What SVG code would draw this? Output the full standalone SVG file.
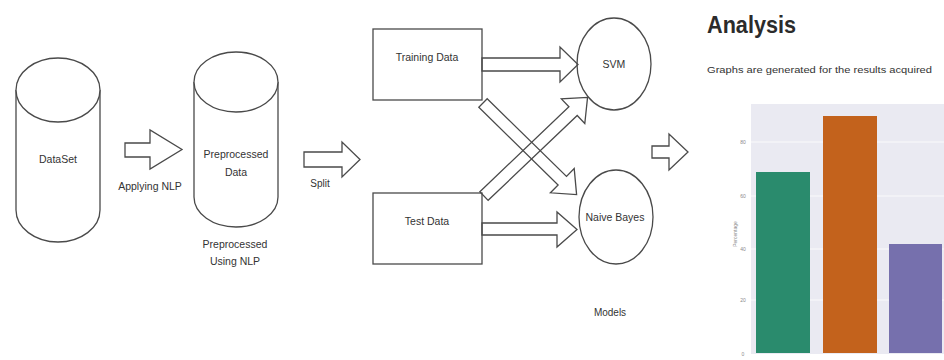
<svg xmlns="http://www.w3.org/2000/svg" width="944" height="360" viewBox="0 0 944 360">
  <style>
    .ln { fill: none; stroke: #4a4a4a; stroke-width: 1.3; }
    .shape { fill: #ffffff; stroke: #4a4a4a; stroke-width: 1.3; }
    .lbl { font-family: "Liberation Sans", Arial, sans-serif; font-size: 10.5px; fill: #333333; text-anchor: middle; }
    .tick { font-family: "Liberation Sans", Arial, sans-serif; font-size: 5px; fill: #8a8a8a; text-anchor: middle; }
    .grid { stroke: #ffffff; stroke-width: 1; opacity: 0.8; }
  </style>
  <rect width="944" height="360" fill="#ffffff"/>

  <!-- Data stores -->
  <g id="dataset">
    <path class="shape" d="M16,90 L16,210 A42,32 0 0 0 100,210 L100,90"/>
    <ellipse class="shape" cx="58" cy="90" rx="42" ry="32"/>
    <text class="lbl" x="58" y="163">DataSet</text>
  </g>
  <g id="preprocessed">
    <path class="shape" d="M194,82 L194,197 A42,30 0 0 0 278,197 L278,82"/>
    <ellipse class="shape" cx="236" cy="82" rx="42" ry="30"/>
    <text class="lbl" x="236" y="158">Preprocessed</text>
    <text class="lbl" x="236" y="176">Data</text>
  </g>

  <!-- Split data -->
  <g id="training">
    <rect class="shape" x="373" y="29" width="109" height="71"/>
    <text class="lbl" x="427" y="61">Training Data</text>
  </g>
  <g id="test">
    <rect class="shape" x="373" y="193" width="109" height="71"/>
    <text class="lbl" x="427" y="225">Test Data</text>
  </g>

  <!-- Models -->
  <g id="svm">
    <ellipse class="shape" cx="614" cy="64" rx="37" ry="46"/>
    <text class="lbl" x="614" y="68">SVM</text>
  </g>
  <g id="naive-bayes">
    <ellipse class="shape" cx="616" cy="217" rx="37" ry="47"/>
    <text class="lbl" x="615" y="221">Naive Bayes</text>
  </g>

  <!-- Block-arrow connectors -->
  <g id="connectors">
    <polygon class="ln" points="125,143 150,143 150,130 182,149.5 150,169 150,157 125,157"/>
    <polygon class="ln" points="304,152 342,152 342,142 360,159.5 342,177 342,167 304,167"/>
    <polygon class="ln" points="482,58 560,58 560,47 578,64.5 560,82 560,71 482,71"/>
    <polygon class="ln" points="482,223 557,223 557,212 577,229.5 557,247 557,235 482,235"/>
    <path class="ln" transform="translate(483,103) rotate(44.4)" d="M0,-6 L111,-6 L111,-17 L131,0 L111,17 L111,6 L0,6 Z"/>
    <path class="ln" transform="translate(484,196) rotate(-43.6)" d="M0,-6 L123,-6 L123,-17 L143,0 L123,17 L123,6 L0,6 Z"/>
    <polygon class="ln" points="652,146 669,146 669,134 688,152 669,170 669,158 652,158"/>
  </g>

  <!-- Free labels -->
  <g id="labels">
    <text class="lbl" x="150" y="190">Applying NLP</text>
    <text class="lbl" x="235" y="248">Preprocessed</text>
    <text class="lbl" x="235" y="265">Using NLP</text>
    <text class="lbl" x="320" y="187" style="font-size:10px">Split</text>
    <text class="lbl" x="610" y="316" style="font-size:10px">Models</text>
  </g>

  <!-- Analysis panel -->
  <g id="analysis">
    <text x="707" y="33" font-family="Liberation Sans, Arial, sans-serif" font-size="24" font-weight="bold" fill="#2b2b2b" textLength="89" lengthAdjust="spacingAndGlyphs">Analysis</text>
    <text x="707" y="73" font-family="Liberation Sans, Arial, sans-serif" font-size="9.5" fill="#333333" textLength="225" lengthAdjust="spacingAndGlyphs">Graphs are generated for the results acquired</text>

    <rect x="751" y="104" width="193" height="250" fill="#eaeaf2"/>
    <line class="grid" x1="751" y1="142" x2="944" y2="142"/>
    <line class="grid" x1="751" y1="196" x2="944" y2="196"/>
    <line class="grid" x1="751" y1="249" x2="944" y2="249"/>
    <line class="grid" x1="751" y1="300" x2="944" y2="300"/>

    <rect x="756" y="172" width="54" height="181" fill="#2a8b6d"/>
    <rect x="823" y="116" width="54" height="237" fill="#c3621c"/>
    <rect x="889" y="244" width="53" height="109" fill="#7670ad"/>

    <text class="tick" x="743" y="144">80</text>
    <text class="tick" x="743" y="198">60</text>
    <text class="tick" x="743" y="251">40</text>
    <text class="tick" x="743" y="302">20</text>
    <text class="tick" x="743" y="356">0</text>
    <text class="tick" transform="translate(737,234) rotate(-90)">Percentage</text>
  </g>
</svg>
